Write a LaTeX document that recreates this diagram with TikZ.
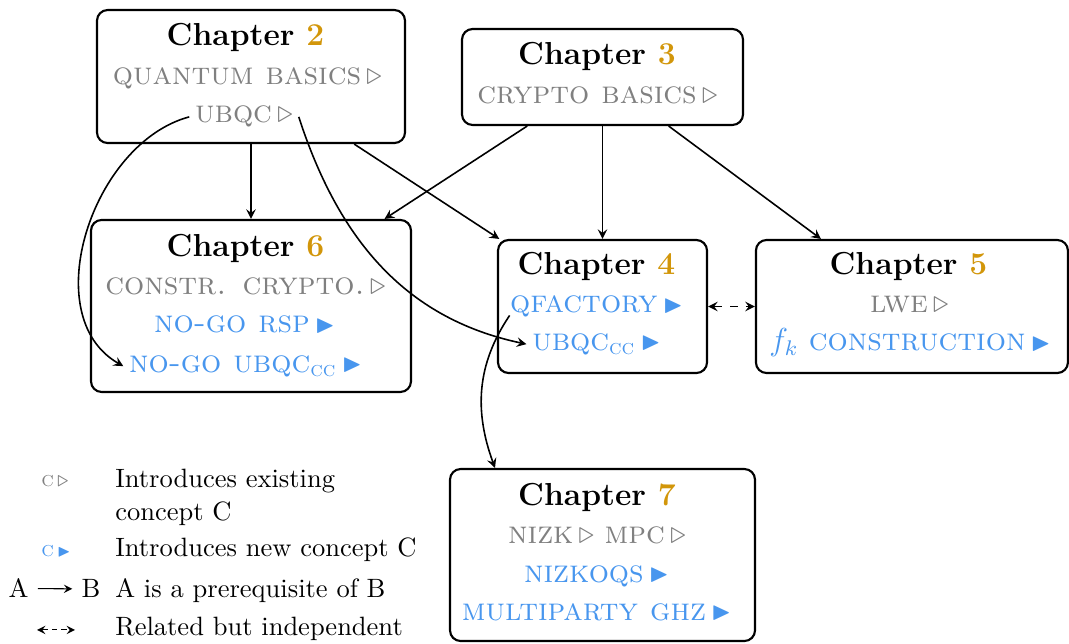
\documentclass[tikz,border=0pt]{standalone}
\usepackage{amsmath}
\usepackage{amssymb}
\usepackage{tikz}
\definecolor{newblue}{RGB}{72,150,238}
\definecolor{chapgold}{RGB}{210,150,10}
\newcommand{\oldc}[1]{\textcolor{gray}{\textsc{#1}\,$\triangleright$}}
\newcommand{\newc}[1]{\textcolor{newblue}{\textsc{#1}\,\raisebox{0.2pt}{\scalebox{0.8}{$\blacktriangleright$}}}}
\newcommand{\chaptitle}[1]{\textbf{Chapter \textcolor{chapgold}{#1}}}

\begin{document}
\begin{tikzpicture}[>=stealth,
    box/.style={draw, thick, rounded corners=4pt},
    item/.style={anchor=base, inner sep=2pt, font=\large}]
       \useasboundingbox (0,0) rectangle (14.178,-8.541);
       % chapter boxes
       \node[box, minimum width=4.085cm, minimum height=1.764cm] (ch2) at (3.329,-1.015) {};
       \node[box, minimum width=3.727cm, minimum height=1.273cm] (ch3) at (7.991,-1.021) {};
       \node[box, minimum width=4.244cm, minimum height=2.281cm] (ch6) at (3.329,-4.058) {};
       \node[box, minimum width=2.772cm, minimum height=1.764cm] (ch4) at (7.991,-4.065) {};
       \node[box, minimum width=4.138cm, minimum height=1.764cm] (ch5) at (12.095,-4.065) {};
       \node[box, minimum width=4.045cm, minimum height=2.281cm] (ch7) at (7.991,-7.361) {};
       % contents
       \node[item] (t2) at (3.256,-0.597) {\chaptitle{2}};
       \node[item] (qbasics) at (3.282,-1.127) {\oldc{quantum basics}};
       \node[item] (ubqc) at (3.236,-1.631) {\oldc{ubqc}};
       \node[item] (t3) at (7.918,-0.849) {\chaptitle{3}};
       \node[item] (cbasics) at (7.924,-1.379) {\oldc{crypto basics}};
       \node[item] (t6) at (3.256,-3.408) {\chaptitle{6}};
       \node[item] (constr) at (3.256,-3.912) {\oldc{constr. crypto.}};
       \node[item] (nogorsp) at (3.243,-4.416) {\newc{no-go rsp}};
       \node[item] (nogoubqc) at (3.256,-4.934) {\newc{no-go ubqc\textsubscript{cc}}};
       \node[item] (t4) at (7.911,-3.647) {\chaptitle{4}};
       \node[item] (qfac) at (7.911,-4.151) {\newc{qfactory}};
       \node[item] (ubqccc) at (7.911,-4.642) {\newc{ubqc\textsubscript{cc}}};
       \node[item] (t5) at (12.049,-3.647) {\chaptitle{5}};
       \node[item] (lwe) at (12.062,-4.151) {\oldc{lwe}};
       \node[item] (fk) at (12.069,-4.655) {\textcolor{newblue}{$f_k$} \newc{construction}};
       \node[item] (t7) at (7.918,-6.698) {\chaptitle{7}};
       \node[item] (nizk) at (7.918,-7.202) {\oldc{nizk} \oldc{mpc}};
       \node[item] (nizkoqs) at (7.911,-7.719) {\newc{nizkoqs}};
       \node[item] (ghz) at (7.911,-8.223) {\newc{multiparty ghz}};
       % prerequisites
       \draw[->, semithick] (ch2) -- (ch6); \draw[->, semithick] (ch2) -- (ch4);
       \draw[->, semithick] (ch3) -- (ch6); \draw[->, semithick] (ch3) -- (ch4);
       \draw[->, semithick] (ch3) -- (ch5);
       \draw[<->, semithick, dashed] (ch4) -- (ch5);
       \draw[->, semithick] (ubqc.west) to[out=195, in=150] (nogoubqc.west);
       \draw[->, semithick] (ubqc.east) to[out=-72, in=168] (ubqccc.west);
       \draw[->, semithick] ([shift={(2pt,3pt)}]qfac.south west) to[out=236, in=110] (ch7.141);
       % legend
       \node[anchor=base] (ls1) at (0.729,-6.455) {\footnotesize\oldc{c}};
       \node[anchor=base west] (lt1) at (1.405,-6.472) {Introduces existing};
       \node[anchor=base west] (lt1b) at (1.405,-6.897) {concept C};
       \node[anchor=base] (ls2) at (0.743,-7.384) {\footnotesize\newc{c}};
       \node[anchor=base west] (lt2) at (1.405,-7.387) {Introduces new concept C};
       \node[anchor=base] (la) at (0.245,-7.931) {A}; \node[anchor=base] (lb) at (1.207,-7.931) {B};
       \draw[->] (la) -- (lb);
       \node[anchor=base west] (lt3) at (1.405,-7.931) {A is a prerequisite of B};
       \coordinate (d1) at (0.491,-8.355); \coordinate (d2) at (0.995,-8.355);
       \draw[<->, dash pattern=on 2pt off 1.6pt] (d1) -- (d2);
       \node[anchor=base west] (lt4) at (1.405,-8.422) {Related but independent};
\end{tikzpicture}
\end{document}
